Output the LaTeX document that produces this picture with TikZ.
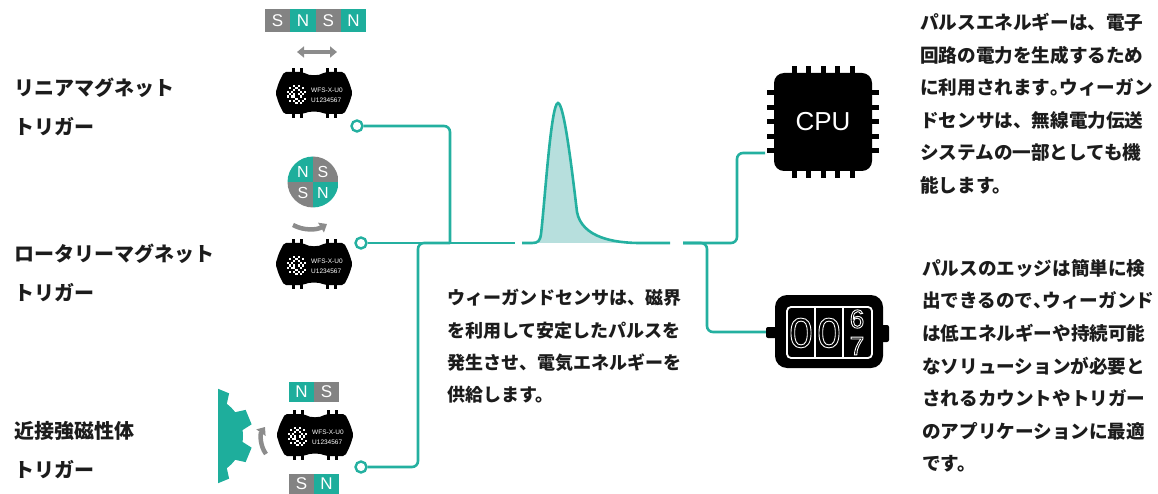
\documentclass[tikz,border=0pt]{standalone}
\usepackage{fontspec}
\setmainfont{Liberation Sans}
\newfontfamily\jpfont{Noto Sans CJK JP}
\usetikzlibrary{arrows.meta}

\definecolor{wireteal}{RGB}{36,176,160}
\definecolor{poleteal}{RGB}{30,174,156}
\definecolor{polegray}{RGB}{131,131,131}
\definecolor{pulsefill}{RGB}{183,223,221}
\definecolor{arrowgray}{RGB}{140,140,140}
\definecolor{ink}{RGB}{28,28,28}

\tikzstyle{wire}=[draw=wireteal, line width=2.6pt, rounded corners=6pt]
\tikzstyle{terminal}=[circle, draw=wireteal, fill=white, line width=2.4pt, minimum size=11pt, inner sep=0pt]
\tikzstyle{pole}=[minimum width=25.3pt, minimum height=23pt, inner sep=0pt, text=white, font=\fontsize{17}{17}\selectfont]
\tikzstyle{rotorpole}=[inner sep=0pt, text=white, font=\fontsize{16}{16}\selectfont]
\tikzstyle{motion}=[draw=arrowgray, line width=4.5pt]
\tikzstyle{trigtext}=[anchor=north west, inner sep=0pt, align=left, text=ink, font=\jpfont\bfseries\fontsize{20}{39}\selectfont]
\tikzstyle{note}=[anchor=north west, inner sep=0pt, align=left, text=ink, font=\jpfont\bfseries\fontsize{18.6}{32.6}\selectfont]
\tikzstyle{chiptext}=[anchor=west, inner sep=0pt, text=white, font=\fontsize{6.5}{6.5}\selectfont]
\tikzstyle{digit}=[inner sep=0pt, text=white, font=\fontsize{42}{42}\selectfont]

% half width punctuation inside a justified line
\newcommand{\hpunct}[1]{{\addfontfeature{RawFeature=+halt}#1}}
% hollow counter figures
\newcommand{\hollow}[1]{\special{pdf:literal direct 1 Tr 0.9 w}#1\special{pdf:literal direct 0 Tr}}

% sensor package: name, centre
\newcommand{\wfschip}[2]{%
  \begin{scope}[shift={#2}]
    \fill[black, rounded corners=2pt] (-38.5,0) -- (-35,-11) -- (-30,-21) -- (-11,-21)
      .. controls (-5,-17) and (5,-17) .. (11,-21) -- (30,-21) -- (35,-11) -- (38.5,0)
      -- (35,11) -- (30,21) -- (11,21) .. controls (5,18) and (-5,18) .. (-11,21)
      -- (-30,21) -- (-35,11) -- cycle;
    \foreach \px in {-21,-13,13,21} {
      \fill (\px-1.5,-25) rectangle +(3,5);
      \fill (\px-1.5,20) rectangle +(3,5);
    }
    % qr code
    \fill[white] (-27,-8) rectangle (-8,11);
    \foreach \qx/\qy in {0/0,6/0,0/6} {
      \fill (-27+\qx*2.1,-8+\qy*2.1) rectangle +(6.3,6.3);
      \fill[white] (-27+\qx*2.1+2.1,-8+\qy*2.1+2.1) rectangle +(2.1,2.1);
    }
    \foreach \qx/\qy in {4/0,4/2,5/1,3/1,3/3,4/3,5/3,7/3,0/4,2/4,6/4,8/4,4/5,1/5,5/5,3/6,5/6,7/6,4/7,8/7,5/8,7/8,3/8,6/6,8/5,6/7,8/8,7/5,1/3,4/4}
      \fill (-27+\qx*2.1,-8+\qy*2.1) rectangle +(2.1,2.1);
    \node[chiptext] (#1) at (-3,-3) {WFS-X-U0};
    \node[chiptext] (#1b) at (-3,7) {U1234567};
  \end{scope}}

\begin{document}
\begin{tikzpicture}[x=1pt, y=-1pt]
\useasboundingbox (0,0) rectangle (1158,494);

% trigger names
\node[trigtext] (lineartext) at (14,78) {リニアマグネット\\トリガー};
\node[trigtext] (rotarytext) at (14,244) {ロータリーマグネット\\トリガー};
\node[trigtext] (proxtext) at (14,421) {近接強磁性体\\トリガー};

\wfschip{chipa}{(314,93)}
\wfschip{chipb}{(314,264)}
\wfschip{chipc}{(315,435)}

% linear magnet strip
\foreach \i/\p/\c in {0/S/polegray,1/N/poleteal,2/S/polegray,3/N/poleteal}
  \node[pole, fill=\c] (strip\i) at (277.6+25.3*\i,20.5) {\p};
\draw[motion, {Triangle[length=7pt,width=11pt]}-{Triangle[length=7pt,width=11pt]}] (297,52) -- (337,52);

% rotary magnet
\begin{scope}
  \clip (313,182) circle (25.5);
  \fill[poleteal] (287,156) rectangle (313,182);
  \fill[polegray] (313,156) rectangle (339,182);
  \fill[polegray] (287,182) rectangle (313,208);
  \fill[poleteal] (313,182) rectangle (339,208);
\end{scope}
\foreach \pos/\p/\name in {{(303,172)/N/qa},{(323,172)/S/qb},{(303,193)/S/qc},{(323,193)/N/qd}}
  \node[rotorpole] (\name) at \pos {\p};
\draw[motion, -{Triangle[length=7pt,width=11pt]}] (293,225) .. controls (304,231) and (317,230) .. (327,224);

% ferromagnetic target
\foreach \i/\p/\c in {0/N/poleteal,1/S/polegray}
  \node[pole, fill=\c, minimum height=20pt] (upper\i) at (301.5+25*\i,392) {\p};
\foreach \i/\p/\c in {0/S/polegray,1/N/poleteal}
  \node[pole, fill=\c, minimum height=20pt] (lower\i) at (301.5+25*\i,484) {\p};
\begin{scope}
  \clip (218,380) rectangle (262,494);
  \coordinate (gc) at (203,436);
  \fill[poleteal] ([shift={(gc)}]8.5:40)
    \foreach \a in {22.5,67.5,...,337.5} {
      -- ([shift={(gc)}]\a-14:40) -- ([shift={(gc)}]\a-9:50) -- ([shift={(gc)}]\a+9:50)
      -- ([shift={(gc)}]\a+14:40) arc[start angle=\a+14, end angle=\a+31, radius=40]
    } -- cycle;
\end{scope}
\draw[motion, -{Triangle[length=7pt,width=11pt]}] (266,454) .. controls (260,446) and (260,434) .. (265,427);

% sensor outputs
\node[terminal] (ta) at (357,126) {};
\node[terminal] (tb) at (361,243) {};
\node[terminal] (tc) at (361,467) {};
\coordinate (busa) at (450,243);
\coordinate (pulsein) at (515,243);
\coordinate (pulsestart) at (522,243);
\coordinate (pulseend) at (670,243);
\coordinate (pulseout) at (683,243);
\coordinate (cpuin) at (765,153);
\coordinate (cntin) at (766,332);

\draw[wire] (ta.east) -- (450,126) -- (busa);
\draw[wire] (tb.east) -- (pulsein);
\draw[wire] (tc.east) -- (418,467) -- (418,243) -- (busa);

% output pulse
\fill[pulsefill] (532,243) .. controls (538,243) and (540,241) .. (541,234)
  .. controls (545,200) and (551,103) .. (558,103)
  .. controls (564,103) and (572,170) .. (577,212)
  .. controls (582,238) and (615,243) .. (640,243) -- cycle;
\draw[wire, rounded corners=0pt] (pulsestart) -- (532,243) .. controls (538,243) and (540,241) .. (541,234)
  .. controls (545,200) and (551,103) .. (558,103)
  .. controls (564,103) and (572,170) .. (577,212)
  .. controls (582,238) and (615,243) .. (640,243) -- (pulseend);

\draw[wire] (pulseout) -- (737,243) -- (737,153) -- (cpuin);
\draw[wire] (pulseout) -- (707,243) -- (707,332) -- (cntin);

% cpu
\node[fill=black, rounded corners=10pt, minimum width=98pt, minimum height=98pt, inner sep=0pt,
  text=white, font=\fontsize{26}{26}\selectfont] (cpu) at (823,122) {CPU};
\foreach \d in {-29,-14.5,0,14.5,29} {
  \fill (823+\d-2.5,66) rectangle +(5,8);
  \fill (823+\d-2.5,170) rectangle +(5,8);
  \fill (767,122+\d-2.5) rectangle +(8,5);
  \fill (871,122+\d-2.5) rectangle +(8,5);
}

% counter
\fill[rounded corners=2pt] (766,327) rectangle (777,338);
\fill[rounded corners=2pt] (881,325) rectangle (889,342);
\node[fill=black, rounded corners=12pt, minimum width=108pt, minimum height=73pt, inner sep=0pt] (cnt) at (829,331.5) {};
\draw[white, line width=1.8pt, rounded corners=4pt] (787,307) rectangle (872,358);
\draw[white, line width=1.8pt] (815,307) -- (815,358) (843,307) -- (843,358);
\node[digit] (da) at (801,333) {\hollow{0}};
\node[digit] (db) at (829,333) {\hollow{0}};
\node[digit, font=\fontsize{26}{26}\selectfont] (dc) at (857,319) {\hollow{6}};
\node[digit, font=\fontsize{26}{26}\selectfont] (dd) at (857,346) {\hollow{7}};

% descriptions
\node[note, font=\jpfont\bfseries\fontsize{18}{32.4}\selectfont] (sensortext) at (447,289)
  {ウィーガンドセンサは、磁界\\を利用して安定したパルスを\\発生させ、電気エネルギーを\\供給します。};
\node[note] (cputext) at (920,13)
  {パルスエネルギーは、電子\\回路の電力を生成するため\\に利用されます\hpunct{。}ウィーガン\\ドセンサは、無線電力伝送\\システムの一部としても機\\能します。};
\node[note] (counttext) at (922,259)
  {パルスのエッジは簡単に検\\出できるので\hpunct{、}ウィーガンド\\は低エネルギーや持続可能\\なソリューションが必要と\\されるカウントやトリガー\\のアプリケーションに最適\\です。};
\end{tikzpicture}
\end{document}
